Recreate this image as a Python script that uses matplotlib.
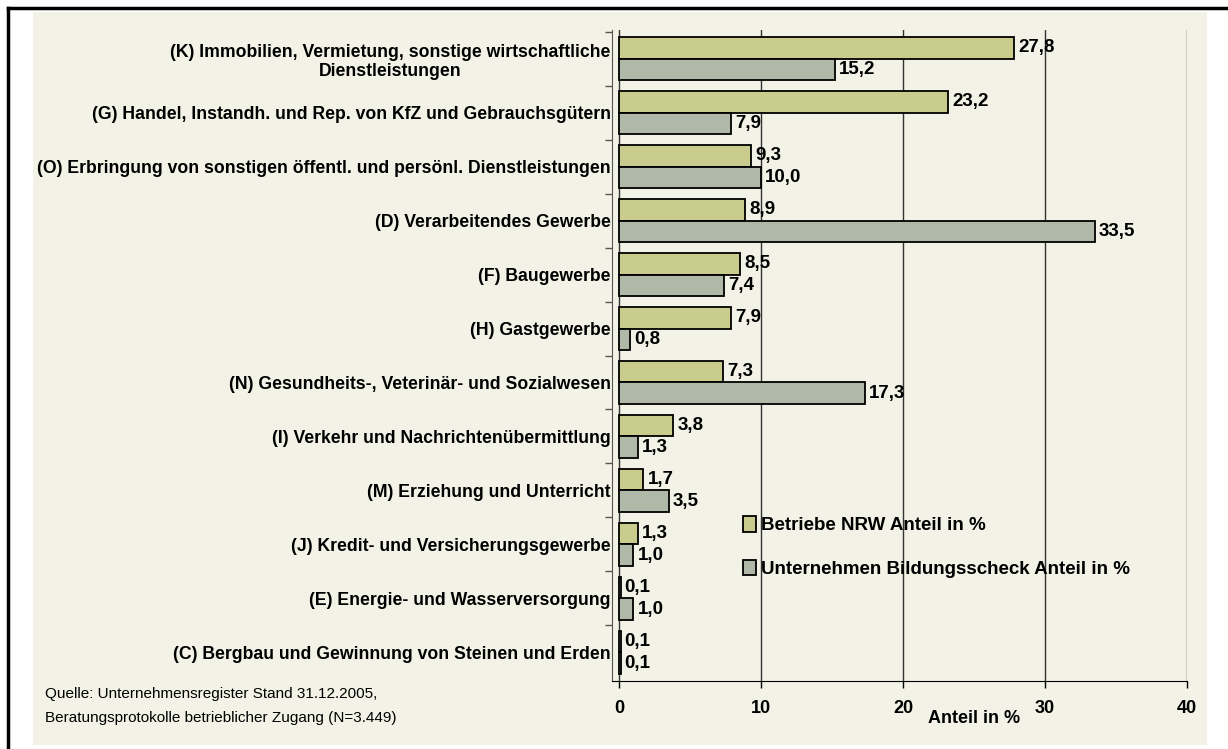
import numpy as np
import matplotlib.pyplot as plt
from matplotlib.patches import Rectangle
from matplotlib.lines import Line2D

plt.rcParams['font.family'] = ['Liberation Sans', 'DejaVu Sans']

# Wirtschaftszweige (von oben nach unten)
kategorien = [
    '(K) Immobilien, Vermietung, sonstige wirtschaftliche\nDienstleistungen',
    '(G) Handel, Instandh. und Rep. von KfZ und Gebrauchsgütern',
    '(O) Erbringung von sonstigen öffentl. und persönl. Dienstleistungen',
    '(D) Verarbeitendes Gewerbe',
    '(F) Baugewerbe',
    '(H) Gastgewerbe',
    '(N) Gesundheits-, Veterinär- und Sozialwesen',
    '(I) Verkehr und Nachrichtenübermittlung',
    '(M) Erziehung und Unterricht',
    '(J) Kredit- und Versicherungsgewerbe',
    '(E) Energie- und Wasserversorgung',
    '(C) Bergbau und Gewinnung von Steinen und Erden',
]
betriebe_nrw = [27.8, 23.2, 9.3, 8.9, 8.5, 7.9, 7.3, 3.8, 1.7, 1.3, 0.1, 0.1]
bildungsscheck = [15.2, 7.9, 10.0, 33.5, 7.4, 0.8, 17.3, 1.3, 3.5, 1.0, 1.0, 0.1]
x_ticks = [0, 10, 20, 30, 40]

hintergrund = '#F2F2E6'
gruen = '#CACC8E'
grau = '#B0B8A8'

fig = plt.figure(figsize=(12.28, 7.49), dpi=100)
fig.patch.set_facecolor('white')

# Rahmen und Hintergrund
fig.add_artist(Rectangle((33 / 1228, 4 / 749), (1207 - 33) / 1228, (737 - 4) / 749,
                         transform=fig.transFigure, facecolor=hintergrund,
                         edgecolor='none', zorder=0))
fig.add_artist(Line2D([8 / 1228, 1.0], [1 - 8 / 749, 1 - 8 / 749],
                      transform=fig.transFigure, color='black', lw=2.5))
fig.add_artist(Line2D([8 / 1228, 8 / 1228], [0, 1 - 8 / 749],
                      transform=fig.transFigure, color='black', lw=2.5))

ax = fig.add_axes([612 / 1228, 1 - 681 / 749, (1187 - 612) / 1228, (681 - 30) / 749])
ax.set_facecolor('none')

y = np.arange(len(kategorien))
h = 0.4
b1 = ax.barh(y - h / 2, betriebe_nrw, height=h, color=gruen, edgecolor='black',
             lw=1.3, label='Betriebe NRW Anteil in %', zorder=3)
b2 = ax.barh(y + h / 2, bildungsscheck, height=h, color=grau, edgecolor='black',
             lw=1.3, label='Unternehmen Bildungsscheck Anteil in %', zorder=3)

for bars in (b1, b2):
    for rect in bars:
        w = rect.get_width()
        ax.annotate(f'{w:.1f}'.replace('.', ','),
                    (w, rect.get_y() + rect.get_height() / 2),
                    xytext=(3, 0), textcoords='offset points',
                    va='center', ha='left', fontsize=13.5, fontweight='bold')

ax.set_xlim(-0.5, 40)
ax.set_ylim(len(kategorien) - 0.47, -0.53)
ax.set_xticks(x_ticks)
ax.set_xticklabels([str(t) for t in x_ticks], fontsize=13, fontweight='bold')
ax.tick_params(axis='x', length=5, pad=9, width=1)
ax.grid(axis='x', color='#333333', lw=1, zorder=1)

ax.set_yticks(y)
ax.set_yticklabels(kategorien, fontsize=12.7, fontweight='bold', multialignment='center')
ax.set_yticks(np.arange(-0.5, len(kategorien) - 0.5, 1), minor=True)
ax.tick_params(axis='y', which='major', length=0, pad=1)
ax.tick_params(axis='y', which='minor', length=5, width=1, color='#555555')

for s in ('top', 'right'):
    ax.spines[s].set_visible(False)
ax.spines['left'].set_color('#555555')
ax.spines['bottom'].set_color('black')

ax.set_xlabel('Anteil in %', fontsize=13, fontweight='bold')
ax.xaxis.set_label_coords(0.63, -0.045)

leg = ax.legend(loc='upper left', bbox_to_anchor=(0.198, 0.279), frameon=False,
                prop={'weight': 'bold', 'size': 13.5}, handlelength=0.7,
                handleheight=0.9, handletextpad=0.3, labelspacing=1.35)

fig.text(45 / 1228, 1 - 694 / 749, 'Quelle: Unternehmensregister Stand 31.12.2005,',
         fontsize=11, va='center', ha='left')
fig.text(45 / 1228, 1 - 718 / 749, 'Beratungsprotokolle betrieblicher Zugang (N=3.449)',
         fontsize=11, va='center', ha='left')

fig.savefig('out.png', dpi=100, facecolor='white')
